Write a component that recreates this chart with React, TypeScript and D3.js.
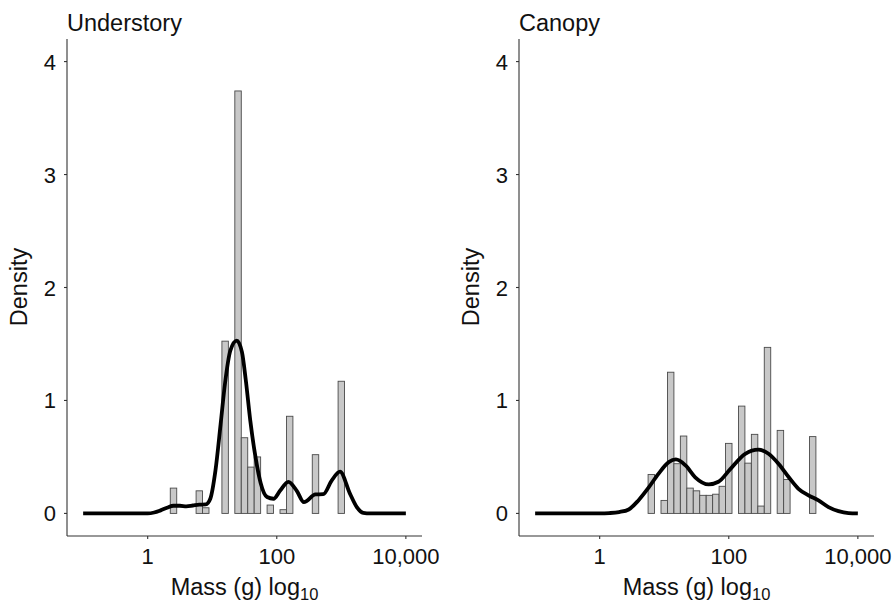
import React from "react";
import * as d3 from "d3";

// Histogram bins: centers in log10(mass), density values
const underBinCenters = [0.4, 0.8, 0.9, 1.2, 1.4, 1.5, 1.6, 1.7, 1.9, 2.1, 2.2, 2.6, 3.0];
const underBinDensity = [0.224, 0.2, 0.05, 1.525, 3.74, 0.67, 0.41, 0.5, 0.074, 0.033, 0.86, 0.52, 1.17];

const canopyBinCenters = [0.8, 1.0, 1.1, 1.2, 1.3, 1.4, 1.5, 1.6, 1.7, 1.8, 1.9, 2.0, 2.2, 2.3, 2.4, 2.5, 2.6, 2.8, 2.9, 3.3];
const canopyBinDensity = [0.345, 0.115, 1.25, 0.44, 0.685, 0.224, 0.2, 0.16, 0.16, 0.17, 0.24, 0.62, 0.95, 0.445, 0.7, 0.065, 1.47, 0.735, 0.3, 0.68];

// Density curves (log10 mass, density)
const underCurveX = [-1, 0, 0.1, 0.2, 0.3, 0.4, 0.5, 0.6, 0.7, 0.8, 0.9, 0.97, 1.05, 1.13, 1.2, 1.28, 1.38, 1.46, 1.52, 1.59, 1.67, 1.75, 1.85, 1.95, 2.05, 2.18, 2.31, 2.42, 2.6, 2.72, 2.85, 2.98, 3.13, 3.24, 3.34, 3.45, 4];
const underCurveY = [0, 0, 0.008, 0.027, 0.05, 0.068, 0.068, 0.063, 0.07, 0.077, 0.08, 0.13, 0.38, 0.79, 1.16, 1.44, 1.53, 1.43, 1.18, 0.82, 0.5, 0.27, 0.145, 0.13, 0.2, 0.28, 0.2, 0.1, 0.168, 0.17, 0.29, 0.37, 0.18, 0.056, 0.005, 0, 0];

const canopyCurveX = [-1, 0, 0.15, 0.3, 0.45, 0.6, 0.76, 0.91, 1.07, 1.18, 1.33, 1.48, 1.69, 1.84, 2.02, 2.255, 2.46, 2.616, 2.77, 2.93, 3.08, 3.235, 3.39, 3.545, 3.7, 3.855, 4];
const canopyCurveY = [0, 0, 0.003, 0.012, 0.035, 0.115, 0.23, 0.35, 0.454, 0.478, 0.425, 0.32, 0.257, 0.28, 0.39, 0.528, 0.564, 0.528, 0.44, 0.32, 0.218, 0.16, 0.115, 0.056, 0.02, 0.003, 0];

const panelTitles = ["Understory", "Canopy"];
const xTickValues = [0, 2, 4];
const xTickLabels = ["1", "100", "10,000"];
const yTickValues = [0, 1, 2, 3, 4];

const FONT = "'Liberation Sans', Arial, Helvetica, sans-serif";

function Panel({ offsetX, title, centers, dens, cx, cy }: any) {
  const x = d3.scaleLinear().domain([-1.25, 4.25]).range([67 + offsetX, 422 + offsetX]);
  const y = d3.scaleLinear().domain([-0.2, 4.2]).range([536, 39]);
  const bw = 0.1;
  const pts: [number, number][] = cx.map((v: number, i: number) => [v, cy[i]]);
  const line = d3
    .line<[number, number]>()
    .x((d) => x(d[0]))
    .y((d) => y(d[1]))
    .curve(d3.curveMonotoneX);
  const axisColor = "#333";
  const left = x.range()[0];
  const right = x.range()[1];
  return (
    <g>
      {centers.map((c: number, i: number) => (
        <rect
          key={i}
          x={x(c - bw / 2)}
          y={y(dens[i])}
          width={x(c + bw / 2) - x(c - bw / 2)}
          height={y(0) - y(dens[i])}
          fill="#c8c8c8"
          stroke="#4a4a4a"
          strokeWidth={0.9}
        />
      ))}
      <path d={line(pts) || ""} fill="none" stroke="#000" strokeWidth={3.8} strokeLinejoin="round" />
      {/* axes */}
      <line x1={left} x2={left} y1={39} y2={536} stroke={axisColor} strokeWidth={1.1} />
      <line x1={left} x2={right} y1={536} y2={536} stroke={axisColor} strokeWidth={1.1} />
      {yTickValues.map((t) => (
        <g key={t}>
          <line x1={left - 3} x2={left} y1={y(t)} y2={y(t)} stroke={axisColor} strokeWidth={1.1} />
          <text x={left - 11} y={y(t) + 8} textAnchor="end" fontSize={22} fontFamily={FONT} fill="#111">
            {t}
          </text>
        </g>
      ))}
      {xTickValues.map((t, i) => (
        <g key={t}>
          <line x1={x(t)} x2={x(t)} y1={536} y2={539} stroke={axisColor} strokeWidth={1.1} />
          <text x={x(t)} y={564} textAnchor="middle" fontSize={22} fontFamily={FONT} fill="#111">
            {xTickLabels[i]}
          </text>
        </g>
      ))}
      <text x={left} y={31} fontSize={23.5} fontFamily={FONT} fill="#111">
        {title}
      </text>
      <text
        transform={`translate(${27 + offsetX},287) rotate(-90)`}
        textAnchor="middle"
        fontSize={23.5}
        fontFamily={FONT}
        fill="#111"
      >
        Density
      </text>
      <text x={(left + right) / 2} y={595} textAnchor="middle" fontSize={23.5} fontFamily={FONT} fill="#111">
        Mass (g) log
        <tspan fontSize={16.5} dy={5}>10</tspan>
      </text>
    </g>
  );
}

export default function App() {
  return (
    <svg
      width={894}
      height={604}
      style={{ position: "absolute", left: 0, top: 0, background: "#fff" }}
    >
      <rect width={894} height={604} fill="#fff" />
      <Panel offsetX={0} title={panelTitles[0]} centers={underBinCenters} dens={underBinDensity} cx={underCurveX} cy={underCurveY} />
      <Panel offsetX={452} title={panelTitles[1]} centers={canopyBinCenters} dens={canopyBinDensity} cx={canopyCurveX} cy={canopyCurveY} />
    </svg>
  );
}
